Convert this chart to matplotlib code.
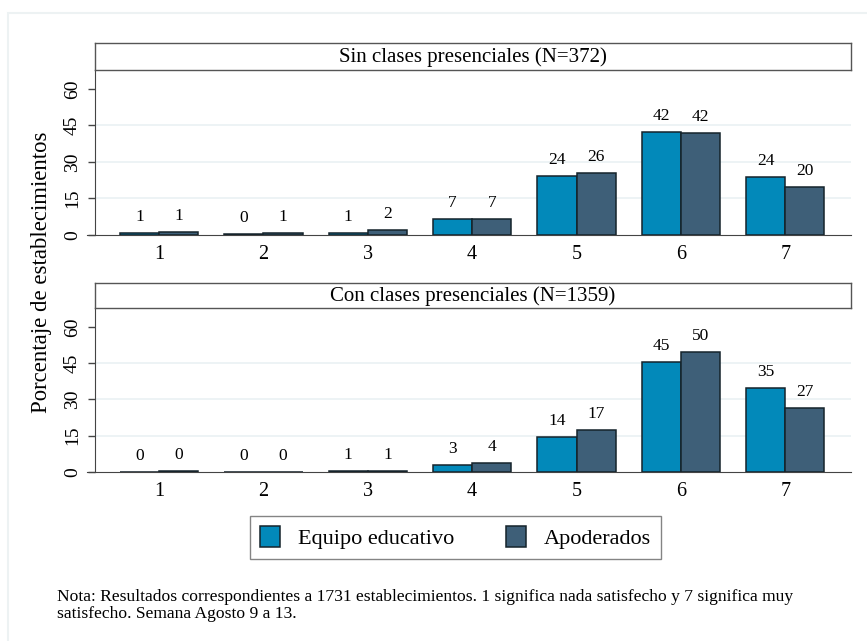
"""Satisfaction distribution by school type, two stacked panels."""

import matplotlib

matplotlib.use("Agg")

import matplotlib.pyplot as plt
import numpy as np
from matplotlib.patches import Patch, Rectangle

# Data (percent of schools).
CATEGORIES = [1, 2, 3, 4, 5, 6, 7]
SERIES_NAMES = ["Equipo educativo", "Apoderados"]
PANEL_TITLES = ["Sin clases presenciales (N=372)", "Con clases presenciales (N=1359)"]

SIN_EQUIPO = [0.8, 0.3, 0.8, 6.6, 24.2, 42.2, 23.8]
SIN_APODERADOS = [1.2, 0.8, 1.9, 6.6, 25.6, 42.0, 19.6]
CON_EQUIPO = [0.1, 0.2, 0.6, 2.9, 14.4, 45.3, 34.6]
CON_APODERADOS = [0.3, 0.2, 0.6, 3.7, 17.3, 49.5, 26.6]

Y_TICKS = [0, 15, 30, 45, 60]

Y_LABEL = "Porcentaje de establecimientos"
NOTE = ("Nota: Resultados correspondientes a 1731 establecimientos. 1 significa nada satisfecho y 7 significa muy\n"
        "satisfecho. Semana Agosto 9 a 13.")

COLORS = ["#0289BA", "#3E5F78"]
EDGE = "#15232B"
W, H = 867, 641

plt.rcParams["font.family"] = ["Liberation Serif", "DejaVu Serif"]


def px_axes(fig, left, top, right, bottom):
    """Add axes given pixel edges measured from the top-left corner."""
    return fig.add_axes([left / W, 1 - bottom / H, (right - left) / W, (bottom - top) / H])


def draw_panel(fig, title, equipo, apoderados, head_top, plot_top, plot_bottom):
    ax = px_axes(fig, 95, plot_top, 851, plot_bottom)
    ax.patch.set_alpha(0)
    x = np.array(CATEGORIES, dtype=float)
    width = 0.375
    for values, offset, color in [(equipo, -width / 2, COLORS[0]), (apoderados, width / 2, COLORS[1])]:
        bars = ax.bar(x + offset, values, width=width, color=color, edgecolor=EDGE, linewidth=1.1, zorder=3)
        for bar, value in zip(bars, values):
            ax.annotate(f"{value:.0f}", (bar.get_x() + bar.get_width() / 2, bar.get_height()),
                        xytext=(0, 11.5), textcoords="offset points",
                        ha="center", va="center", fontsize=12.5)

    for y in Y_TICKS[1:-1]:
        ax.axhline(y, color="#EAF1F3", linewidth=1.2, zorder=1)

    ax.set_xlim(0.386, 7.63)
    ax.set_ylim(0, 67.8)
    ax.set_xticks(CATEGORIES)
    ax.set_xticklabels([str(c) for c in CATEGORIES], fontsize=14.5)
    ax.set_yticks(Y_TICKS)
    ax.set_yticklabels([str(t) for t in Y_TICKS], fontsize=14, rotation=90, va="center")
    ax.tick_params(axis="x", length=0, pad=7)
    ax.tick_params(axis="y", length=5, width=1, color="#444444", pad=5)
    ax.spines["top"].set_visible(False)
    ax.spines["right"].set_visible(False)
    ax.spines["left"].set_color("#444444")
    ax.spines["bottom"].set_color("#444444")
    ax.spines["bottom"].set_bounds(0.386 - 8 / 104.3, 7.63)

    head = px_axes(fig, 95, head_top, 851, plot_top)
    head.set_xticks([])
    head.set_yticks([])
    for spine in head.spines.values():
        spine.set_color("#555555")
        spine.set_linewidth(1.0)
    head.text(0.5, 0.47, title, ha="center", va="center", fontsize=15, transform=head.transAxes)
    return ax


def main():
    fig = plt.figure(figsize=(W / 100, H / 100), dpi=100)

    # Faint outer frame of the original graph region.
    fig.patches.append(Rectangle((8 / W, -0.1), 1.2, 1.1 - 13 / H, transform=fig.transFigure,
                                 fill=False, edgecolor="#EDF2F3", linewidth=1.5))

    draw_panel(fig, PANEL_TITLES[0], SIN_EQUIPO, SIN_APODERADOS, 43, 70, 235)
    draw_panel(fig, PANEL_TITLES[1], CON_EQUIPO, CON_APODERADOS, 283, 308, 472)

    fig.text(42 / W, 1 - 272 / H, Y_LABEL, rotation=90, ha="center", va="center", fontsize=16.4)

    handles = [Patch(facecolor=c, edgecolor=EDGE, linewidth=1.1) for c in COLORS]
    fig.legend(handles, SERIES_NAMES, loc="center", bbox_to_anchor=(455.5 / W, 1 - 537.5 / H),
               ncol=2, fontsize=16, frameon=True, fancybox=False, edgecolor="#666666",
               handlelength=0.9, handleheight=1.1, handletextpad=0.8, columnspacing=2.3, borderpad=0.45)

    fig.text(57 / W, 1 - 589 / H, NOTE, ha="left", va="top", fontsize=12.6, linespacing=1.08)

    fig.savefig("out.png", dpi=100)
    plt.close(fig)


if __name__ == "__main__":
    main()
